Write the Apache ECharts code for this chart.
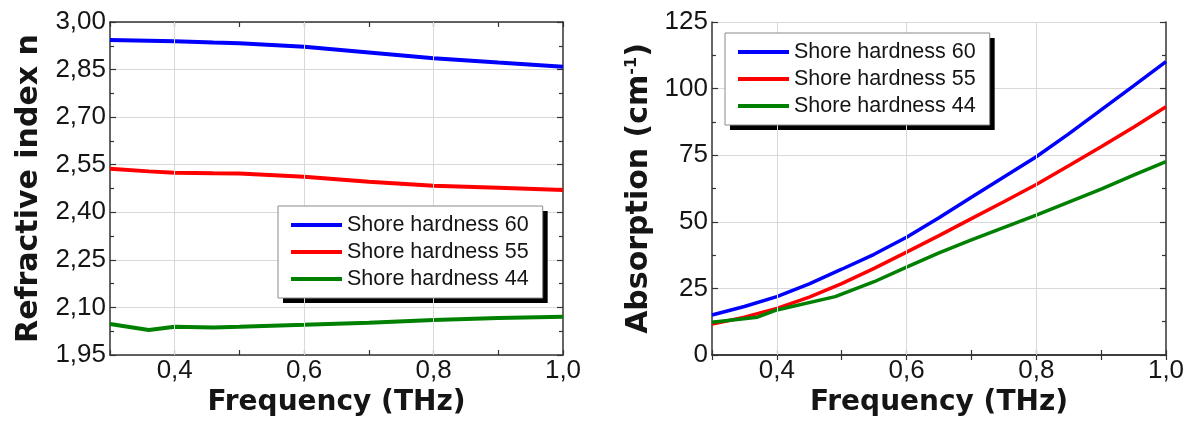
<!DOCTYPE html>
<html>
<head>
<meta charset="utf-8">
<script src="https://cdn.jsdelivr.net/npm/echarts@6/dist/echarts.min.js"></script>
<style>
html,body{margin:0;padding:0;background:#fff;}
#main{width:1195px;height:428px;}
</style>
</head>
<body>
<div id="main"></div>
<script>
// ---- data ----
const seriesNames = ['Shore hardness 60', 'Shore hardness 55', 'Shore hardness 44'];
const seriesColors = ['#0000ff', '#ff0000', '#008000'];

// Refractive index (left panel)
const freqN = [0.30, 0.36, 0.40, 0.46, 0.50, 0.60, 0.70, 0.80, 0.90, 1.00];
const n60 = [2.943, 2.941, 2.939, 2.935, 2.933, 2.922, 2.904, 2.886, 2.872, 2.859];
const n55 = [2.537, 2.529, 2.525, 2.523, 2.522, 2.512, 2.496, 2.484, 2.477, 2.470];
const n44 = [2.048, 2.029, 2.039, 2.037, 2.039, 2.045, 2.052, 2.060, 2.067, 2.071];

// Absorption (right panel)
const freqA = [0.30, 0.35, 0.40, 0.45, 0.50, 0.55, 0.60, 0.65, 0.70, 0.75, 0.80, 0.85, 0.90, 0.95, 1.00];
const a60 = [15.0, 18.2, 21.9, 26.7, 32.2, 37.8, 44.2, 51.5, 59.2, 66.8, 74.4, 83.0, 92.0, 101.0, 110.1];
const a55 = [11.6, 14.2, 17.5, 21.7, 26.8, 32.5, 38.6, 44.8, 51.2, 57.5, 64.0, 71.0, 78.2, 85.5, 93.2];
const freqA44 = [0.30, 0.37, 0.40, 0.49, 0.55, 0.60, 0.65, 0.70, 0.80, 0.90, 0.95, 1.00];
const a44 = [12.3, 14.2, 16.9, 21.9, 27.5, 33.0, 38.3, 43.2, 52.5, 62.3, 67.5, 72.6];

// labelled frequency ticks (vertical grid lines drawn at the inner ones)
const freqGridTicks = [0.4, 0.6, 0.8];

// ---- helpers ----
const pairs = (xs, ys) => xs.map((x, i) => [x, ys[i]]);
const TXT = '#151515';
const AX = '#333333';
const GRIDC = '#d9d9d9';
const labelFont = {fontFamily: 'Liberation Sans', fontSize: 26, color: TXT};
const nameFont = {fontFamily: 'DejaVu Sans', fontWeight: 'bold', color: TXT};

function xFmt(v) {
  const k = Math.round(v * 10);
  return (k % 2 === 0 && k >= 4) ? (k / 10).toFixed(1).replace('.', ',') : '';
}

function xAxes(gridIndex) {
  return [{
    type: 'value', gridIndex, position: 'bottom', min: 0.3, max: 1.0, interval: 0.1,
    axisLine: {show: true, lineStyle: {color: AX, width: 1.5}},
    axisTick: {show: true, inside: true, length: 5, lineStyle: {color: AX, width: 1.2}},
    axisLabel: Object.assign({margin: 3, formatter: xFmt, showMinLabel: true, showMaxLabel: true}, labelFont),
    splitLine: {show: false},
    name: 'Frequency (THz)', nameLocation: 'middle', nameGap: 34,
    nameTextStyle: Object.assign({fontSize: 28}, nameFont)
  }, {
    type: 'value', gridIndex, position: 'top', min: 0.3, max: 1.0, interval: 0.1,
    axisLine: {show: true, lineStyle: {color: AX, width: 1.5}},
    axisTick: {show: true, inside: true, length: 5, lineStyle: {color: AX, width: 1.2}},
    axisLabel: {show: false}, splitLine: {show: false}
  }];
}

function yAxes(gridIndex, min, max, interval, fmt, name, nameGap, rich) {
  return [{
    type: 'value', gridIndex, position: 'left', min, max, interval,
    axisLine: {show: true, lineStyle: {color: AX, width: 1.5}},
    axisTick: {show: true, inside: true, length: 6, lineStyle: {color: AX, width: 1.2}},
    minorTick: {show: true, splitNumber: 2, length: 4, lineStyle: {color: AX, width: 1.2}},
    axisLabel: Object.assign({margin: 4, formatter: fmt}, labelFont),
    splitLine: {show: true, lineStyle: {color: GRIDC, width: 1}},
    name, nameLocation: 'middle', nameGap,
    nameTextStyle: Object.assign({fontSize: 30, rich: rich || {}}, nameFont)
  }, {
    type: 'value', gridIndex, position: 'right', min, max, interval,
    axisLine: {show: true, lineStyle: {color: AX, width: 1.5}},
    axisTick: {show: true, inside: true, length: 6, lineStyle: {color: AX, width: 1.2}},
    minorTick: {show: true, splitNumber: 2, length: 4, lineStyle: {color: AX, width: 1.2}},
    axisLabel: {show: false}, splitLine: {show: false}
  }];
}

const legendText = {fontFamily: 'Liberation Sans', fontSize: 21.5, lineHeight: 22};
// front legend box (white, thin grey border)
function legendFront(left, top) {
  return {
    left, top, orient: 'vertical', data: seriesNames, z: 6,
    icon: 'rect', itemWidth: 51, itemHeight: 4, itemGap: 5,
    padding: [8, 14, 8, 13],
    backgroundColor: '#ffffff', borderColor: '#8a8a8a', borderWidth: 1,
    textStyle: Object.assign({color: TXT}, legendText),
    selectedMode: false
  };
}
// black drop-shadow box behind the legend
function legendShadow(left, top) {
  return {
    left: left + 5, top: top + 5, orient: 'vertical', data: seriesNames, z: 5,
    icon: 'rect', itemWidth: 51, itemHeight: 4, itemGap: 5,
    padding: [8, 14, 8, 13],
    backgroundColor: '#000000', borderWidth: 0,
    itemStyle: {opacity: 0}, lineStyle: {opacity: 0},
    textStyle: Object.assign({color: 'rgba(0,0,0,0)'}, legendText),
    selectedMode: false
  };
}

function line(name, color, data, xi, yi, width) {
  return {
    type: 'line', name, data, xAxisIndex: xi, yAxisIndex: yi,
    showSymbol: false, symbol: 'none', smooth: false, animation: false,
    lineStyle: {color, width}, itemStyle: {color}, z: 3
  };
}

function gridSeries(xi, yi) {
  return {
    type: 'line', data: [], xAxisIndex: xi, yAxisIndex: yi, z: 1, silent: true, animation: false,
    markLine: {
      silent: true, animation: false, symbol: ['none', 'none'],
      label: {show: false}, emphasis: {disabled: true},
      lineStyle: {color: GRIDC, width: 1, type: 'solid'},
      data: freqGridTicks.map(v => ({xAxis: v}))
    }
  };
}

const option = {
  animation: false,
  backgroundColor: '#ffffff',
  grid: [
    {left: 110, top: 22, width: 453, height: 333},
    {left: 712, top: 22, width: 454, height: 333}
  ],
  legend: [legendShadow(278, 206), legendFront(278, 206), legendShadow(725, 33), legendFront(725, 33)],
  xAxis: [...xAxes(0), ...xAxes(1)],
  yAxis: [
    ...yAxes(0, 1.95, 3.00, 0.15, v => v.toFixed(2).replace('.', ','), 'Refractive index n', 66),
    ...yAxes(1, 0, 125, 25, v => String(Math.round(v)), 'Absorption (cm{sup|-1})', 58,
      {sup: {fontFamily: 'DejaVu Sans', fontWeight: 'bold', fontSize: 16, color: TXT, verticalAlign: 'top', padding: [0, 0, 14, 0]}})
  ],
  series: [
    gridSeries(0, 0),
    gridSeries(2, 2),
    line(seriesNames[0], seriesColors[0], pairs(freqN, n60), 0, 0, 4),
    line(seriesNames[1], seriesColors[1], pairs(freqN, n55), 0, 0, 4),
    line(seriesNames[2], seriesColors[2], pairs(freqN, n44), 0, 0, 4),
    line(seriesNames[0], seriesColors[0], pairs(freqA, a60), 2, 2, 3.5),
    line(seriesNames[1], seriesColors[1], pairs(freqA, a55), 2, 2, 3.5),
    line(seriesNames[2], seriesColors[2], pairs(freqA44, a44), 2, 2, 3.5)
  ]
};

const chart = echarts.init(document.getElementById('main'), null, {renderer: 'canvas'});
chart.setOption(option);
</script>
</body>
</html>
